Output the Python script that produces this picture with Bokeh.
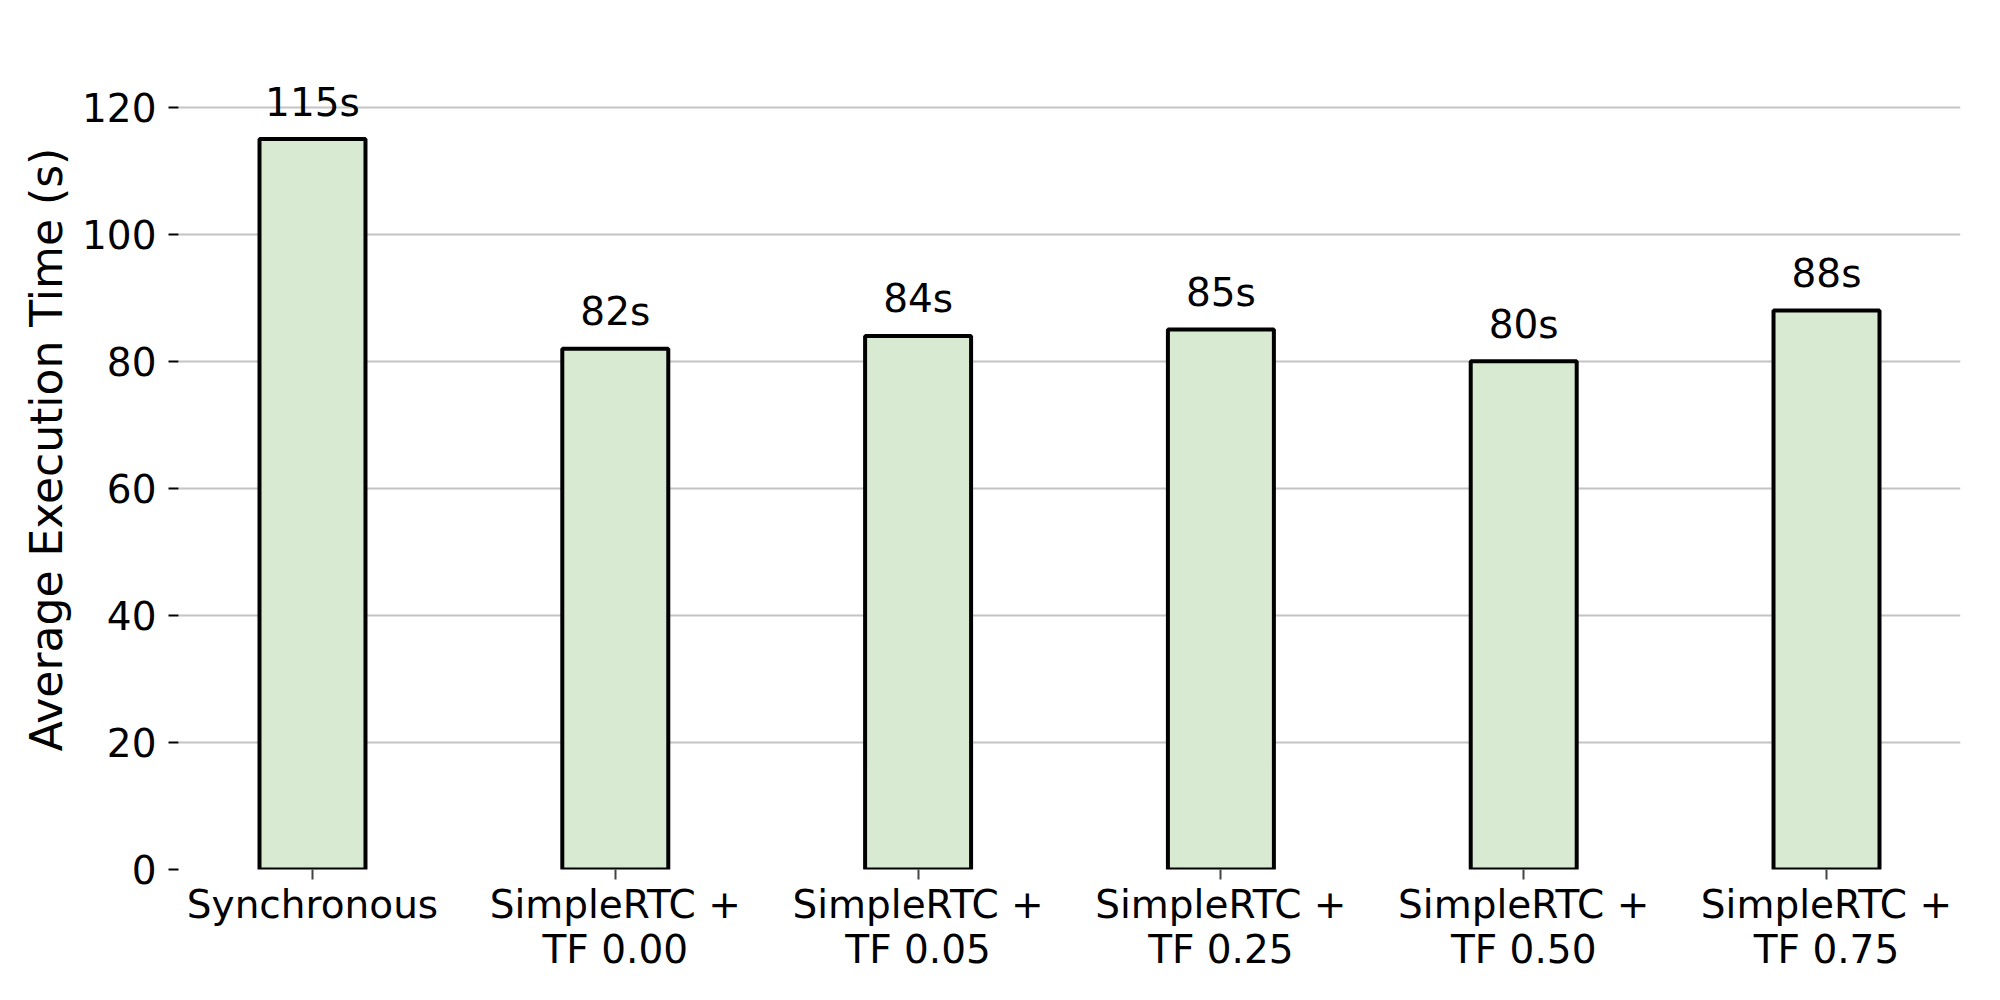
from bokeh.plotting import figure
from bokeh.models import ColumnDataSource, FixedTicker, Range1d
from bokeh.core.properties import value
from bokeh.embed import file_html
from bokeh.resources import INLINE

categories = ["Synchronous", "SimpleRTC +\nTF 0.00", "SimpleRTC +\nTF 0.05",
              "SimpleRTC +\nTF 0.25", "SimpleRTC +\nTF 0.50", "SimpleRTC +\nTF 0.75"]
times = [115, 82, 84, 85, 80, 88]
labels = ["115s", "82s", "84s", "85s", "80s", "88s"]
y_ticks = [0, 20, 40, 60, 80, 100, 120]

xs = list(range(len(categories)))
src = ColumnDataSource(dict(x=xs, top=times, label=labels))

FONT = "DejaVu Sans"

p = figure(width=1980, height=980, output_backend="svg", toolbar_location=None,
           x_range=Range1d(-0.4425, 5.4425), y_range=Range1d(0, 132.25),
           min_border_left=178, min_border_right=20, min_border_top=29,
           min_border_bottom=111)
p.outline_line_color = None
p.background_fill_color = "white"

p.vbar(x="x", top="top", bottom=0, width=0.35, source=src,
       fill_color="#d9ead3", line_color="black", line_width=4)

p.text(x="x", y="top", text="label", source=src, text_align="center",
       text_baseline="alphabetic", y_offset=-37, text_font=value(FONT),
       text_font_size="39px", text_color="black")

# axes
p.xaxis.ticker = FixedTicker(ticks=xs)
p.xaxis.major_label_overrides = {i: c for i, c in enumerate(categories)}
p.xaxis.minor_tick_line_color = None
p.xaxis.axis_line_color = None
p.xaxis.major_tick_line_color = "#444444"
p.xaxis.major_tick_line_width = 2
p.xaxis.major_tick_out = 10
p.xaxis.major_tick_in = 0
p.xaxis.major_label_standoff = 2
p.xaxis.major_label_text_font = FONT
p.xaxis.major_label_text_font_size = "39px"
p.xaxis.major_label_text_color = "black"
p.xaxis.major_label_text_line_height = 1.0

p.yaxis.ticker = FixedTicker(ticks=y_ticks)
p.yaxis.minor_tick_line_color = None
p.yaxis.axis_line_color = None
p.yaxis.major_tick_line_color = "black"
p.yaxis.major_tick_line_width = 2
p.yaxis.major_tick_out = 10
p.yaxis.major_tick_in = 0
p.yaxis.major_label_standoff = 12
p.yaxis.major_label_text_font = FONT
p.yaxis.major_label_text_font_size = "39px"
p.yaxis.major_label_text_color = "black"
p.yaxis.axis_label = "Average Execution Time (s)"
p.yaxis.axis_label_text_font = FONT
p.yaxis.axis_label_text_font_size = "44px"
p.yaxis.axis_label_text_font_style = "normal"
p.yaxis.axis_label_text_color = "black"
p.yaxis.axis_label_standoff = 7

p.xgrid.grid_line_color = None
p.ygrid.grid_line_color = "#c4c4c4"
p.ygrid.grid_line_width = 2

open("out.html", "w").write(file_html(p, INLINE))
